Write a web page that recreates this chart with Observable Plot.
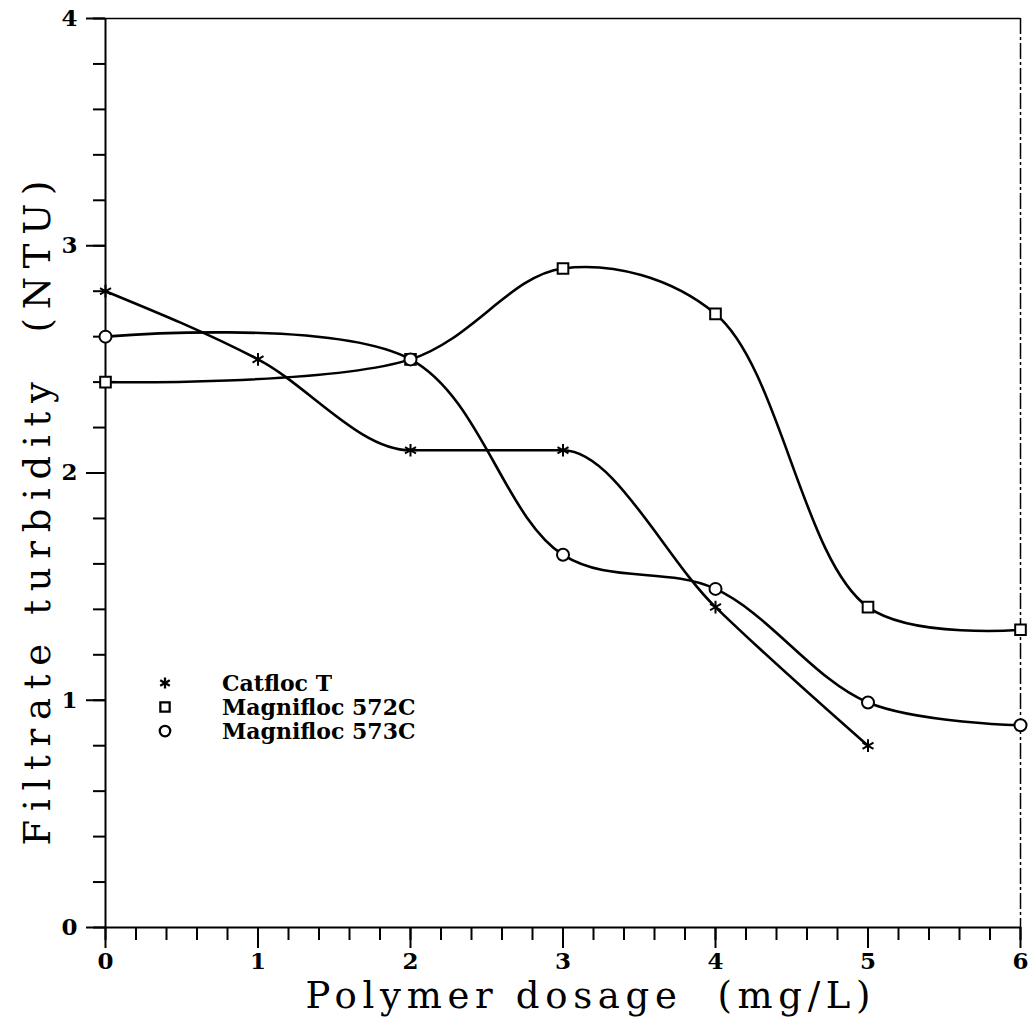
<!DOCTYPE html>
<html>
<head>
<meta charset="utf-8">
<script src="https://cdn.jsdelivr.net/npm/d3@7"></script>
<script src="https://cdn.jsdelivr.net/npm/@observablehq/plot@0.6"></script>
<style>
  html, body { margin: 0; padding: 0; background: white; }
  #wrap { position: relative; width: 1029px; height: 1034px; }
  #legend { position: absolute; left: 155px; top: 671px; }
  #legend .lg-swatch {
    height: 24px; line-height: 24px; padding-bottom: 0 !important;
    font: bold 22px 'DejaVu Serif', serif; color: black; white-space: nowrap;
  }
  #legend .lg-swatch > svg { margin-right: 47px !important; }
</style>
</head>
<body>
<div id="wrap"></div>
<script>
// ---- data ----
const seriesNames = ["Catfloc T", "Magnifloc 572C", "Magnifloc 573C"];
const seriesSymbols = ["asterisk", "square", "circle"];

const catflocDose = [0, 1, 2, 3, 4, 5];
const catflocTurbidity = [2.8, 2.5, 2.1, 2.1, 1.41, 0.8];

const mag572Dose = [0, 2, 3, 4, 5, 6];
const mag572Turbidity = [2.4, 2.5, 2.9, 2.7, 1.41, 1.31];

const mag573Dose = [0, 2, 3, 4, 5, 6];
const mag573Turbidity = [2.6, 2.5, 1.64, 1.49, 0.99, 0.89];

const xMajorTicks = [0, 1, 2, 3, 4, 5, 6];
const yMajorTicks = [0, 1, 2, 3, 4];
const xMinorTicks = d3.range(0, 6.0001, 0.2).map(v => +v.toFixed(1));
const yMinorTicks = d3.range(0, 4.0001, 0.2).map(v => +v.toFixed(1));

const xTitle = "Polymer dosage  (mg/L)";
const yTitle = "Filtrate turbidity  (NTU)";

// ---- tables ----
const catflocRows = catflocDose.map((d, i) => ({series: seriesNames[0], dose: d, turb: catflocTurbidity[i]}));
const mag572Rows = mag572Dose.map((d, i) => ({series: seriesNames[1], dose: d, turb: mag572Turbidity[i]}));
const mag573Rows = mag573Dose.map((d, i) => ({series: seriesNames[2], dose: d, turb: mag573Turbidity[i]}));
const rows = [...catflocRows, ...mag572Rows, ...mag573Rows];

const serif = "'DejaVu Serif', serif";
const tickFont = {fontSize: 23, fontWeight: "bold", fontFamily: serif};
const lineStyle = {x: "dose", y: "turb", stroke: "black", strokeWidth: 2.6};

const chart = Plot.plot({
  width: 1029,
  height: 1034,
  marginLeft: 105,
  marginRight: 9,
  marginTop: 18,
  marginBottom: 107,
  x: {domain: [0, 6]},
  y: {domain: [0, 4]},
  symbol: {domain: seriesNames, range: seriesSymbols},
  style: {fontFamily: serif, color: "black", background: "white"},
  marks: [
    Plot.axisX(xMinorTicks, {tickSize: 13, strokeWidth: 2, tickFormat: () => "", label: null}),
    Plot.axisX(xMajorTicks, {tickSize: 21, tickPadding: 4, tickFormat: d3.format("d"), label: null, strokeWidth: 2, ...tickFont}),
    Plot.axisY(yMinorTicks, {tickSize: 12, strokeWidth: 2, tickFormat: () => "", label: null}),
    Plot.axisY(yMajorTicks, {tickSize: 19, tickPadding: 9, tickFormat: d3.format("d"), label: null, strokeWidth: 2, ...tickFont}),
    Plot.ruleY([0], {strokeWidth: 2}),
    Plot.ruleX([0], {strokeWidth: 2}),
    Plot.ruleY([4], {strokeWidth: 1.5}),
    Plot.ruleX([6], {strokeWidth: 1.5, strokeDasharray: "16,3,3,3"}),
    Plot.line(catflocRows, {...lineStyle, curve: "monotone-x"}),
    Plot.line(mag572Rows, {...lineStyle, curve: "catmull-rom"}),
    Plot.line(mag573Rows, {...lineStyle, curve: "catmull-rom"}),
    Plot.dot(rows, {x: "dose", y: "turb", symbol: "series", r: 6, stroke: "black", strokeWidth: 2, fill: "white"}),
    Plot.text([xTitle], {frameAnchor: "bottom", textAnchor: "middle", dx: 25, dy: 80, fontSize: 37, fill: "black"}),
    Plot.text([yTitle], {frameAnchor: "left", textAnchor: "middle", rotate: -90, dx: -67, dy: 40, fontSize: 37, fill: "black"})
  ]
});

// remove the empty labels of the minor-tick axes; stretch titles to the reference widths
d3.select(chart).selectAll("text").each(function() {
  const t = this.textContent;
  if (t === "") d3.select(this).remove();
  if (t === xTitle) d3.select(this).attr("textLength", 565).attr("lengthAdjust", "spacing");
  if (t === yTitle) d3.select(this).attr("textLength", 665).attr("lengthAdjust", "spacing");
});

const legend = Plot.legend({
  symbol: {domain: seriesNames, range: seriesSymbols},
  columns: 1,
  stroke: "black",
  strokeWidth: 1.8,
  r: 4.2,
  swatchSize: 20,
  className: "lg",
  style: {fontFamily: serif, fontSize: "22px", fontWeight: "bold", color: "black", width: "320px"}
});

const wrap = document.getElementById("wrap");
wrap.appendChild(chart);
const lgDiv = document.createElement("div");
lgDiv.id = "legend";
lgDiv.appendChild(legend);
wrap.appendChild(lgDiv);
</script>
</body>
</html>
